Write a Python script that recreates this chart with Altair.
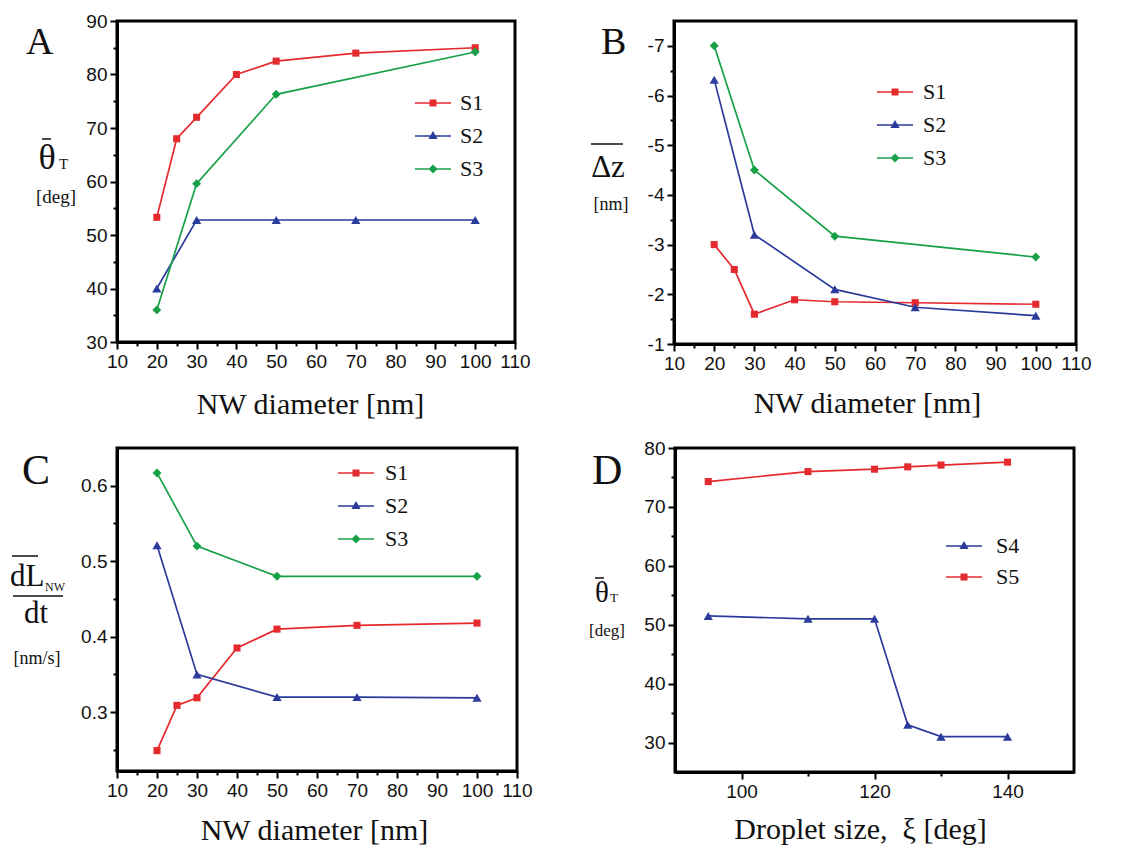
import json
import altair as alt
import pandas as pd

RED = "#e52a2e"
BLUE = "#2a3b9b"
GREEN = "#18a049"
INK = "#111111"

# ---------------- data ----------------
# Panel A : mean theta_T [deg] vs NW diameter [nm]
a_s1_x = [20, 25, 30, 40, 50, 70, 100]
a_s1_y = [53.3, 68.0, 72.0, 80.0, 82.5, 84.0, 85.0]
a_s2_x = [20, 30, 50, 70, 100]
a_s2_y = [40.0, 52.8, 52.8, 52.8, 52.8]
a_s3_x = [20, 30, 50, 100]
a_s3_y = [36.0, 59.6, 76.3, 84.2]

# Panel B : mean Delta z [nm] vs NW diameter [nm]
b_s1_x = [20, 25, 30, 40, 50, 70, 100]
b_s1_y = [-3.0, -2.5, -1.6, -1.89, -1.85, -1.83, -1.8]
b_s2_x = [20, 30, 50, 70, 100]
b_s2_y = [-6.32, -3.2, -2.1, -1.74, -1.57]
b_s3_x = [20, 30, 50, 100]
b_s3_y = [-7.0, -4.5, -3.17, -2.75]

# Panel C : mean dL_NW/dt [nm/s] vs NW diameter [nm]
c_s1_x = [20, 25, 30, 40, 50, 70, 100]
c_s1_y = [0.249, 0.309, 0.319, 0.385, 0.41, 0.415, 0.418]
c_s2_x = [20, 30, 50, 70, 100]
c_s2_y = [0.521, 0.35, 0.32, 0.32, 0.319]
c_s3_x = [20, 30, 50, 100]
c_s3_y = [0.617, 0.52, 0.48, 0.48]

# Panel D : mean theta_T [deg] vs droplet size xi [deg]
d_s4_x = [95, 110, 120, 125, 130, 140]
d_s4_y = [51.5, 51.0, 51.0, 33.0, 31.0, 31.0]
d_s5_x = [95, 110, 120, 125, 130, 140]
d_s5_y = [74.3, 76.0, 76.4, 76.8, 77.1, 77.6]

# tick values
nw_major = [10, 20, 30, 40, 50, 60, 70, 80, 90, 100, 110]
nw_minor = [15, 25, 35, 45, 55, 65, 75, 85, 95, 105]
a_y_major = [30, 40, 50, 60, 70, 80, 90]
a_y_minor = [35, 45, 55, 65, 75, 85]
b_y_major = [-1, -2, -3, -4, -5, -6, -7]
b_y_minor = [-1.5, -2.5, -3.5, -4.5, -5.5, -6.5]
c_y_major = [0.3, 0.4, 0.5, 0.6]
c_y_minor = [0.25, 0.35, 0.45, 0.55]
d_x_major = [100, 120, 140]
d_x_minor = [110, 130]
d_y_major = [30, 40, 50, 60, 70, 80]
d_y_minor = [35, 45, 55, 65, 75]

# legend symbols: line segment + marker
SEG = "M-1.8,-0.075H1.8V0.075H-1.8Z "
P_SQ = SEG + "M-0.35,-0.35H0.35V0.35H-0.35Z"
P_TRI = SEG + "M0,-0.5L0.46,0.3H-0.46Z"
P_DIA = SEG + "M0,-0.46L0.46,0L0,0.46L-0.46,0Z"


def make_axis(major, minor, title=None, fmt=None, lab=None, title_x=None, title_y=None):
    test = "indexof(%s, datum.value) >= 0" % json.dumps(major)
    kw = dict(
        values=sorted(major + minor),
        labelExpr=lab if lab else f"{test} ? datum.label : ''",
        tickSize={"condition": {"test": test, "value": 7}, "value": 4},
        tickWidth=2, tickColor="black", domainColor="black", domainWidth=3,
        labelFont="Liberation Sans", labelFontSize=19, labelColor=INK,
        labelPadding=3, labelFlush=False, labelOverlap=False, grid=False,
    )
    if fmt:
        kw["format"] = fmt
    if title:
        kw.update(title=title, titleFont="Liberation Serif", titleFontSize=30,
                  titleFontWeight="normal", titleColor=INK, titleBaseline="alphabetic",
                  titleAlign="center", titleX=title_x, titleY=title_y)
    else:
        kw["title"] = None
    return alt.Axis(**kw)


def txt(s, x, y, size, align="left"):
    return alt.Chart(pd.DataFrame({"t": [s]})).mark_text(
        font="Liberation Serif", fontSize=size, align=align, baseline="alphabetic", color=INK
    ).encode(text="t:N", x=alt.value(x), y=alt.value(y))


def bar(x1, x2, y):
    return alt.Chart(pd.DataFrame({"t": [0]})).mark_rule(color=INK, strokeWidth=1.5).encode(
        x=alt.value(x1), x2=alt.value(x2), y=alt.value(y))


def anchor(x1, x2, y1, y2):
    # invisible frame that fixes the extent of a panel for the concat layout
    return alt.Chart(pd.DataFrame({"t": [0]})).mark_rule(color="white", opacity=0, strokeWidth=1).encode(
        x=alt.value(x1), x2=alt.value(x2), y=alt.value(y1), y2=alt.value(y2))


def panel(series, xdom, ydom, yrev, xaxis, yaxis, w, h, leg, extras):
    X = alt.X("x:Q", scale=alt.Scale(domain=xdom, nice=False, zero=False), axis=xaxis)
    Y = alt.Y("y:Q", scale=alt.Scale(domain=ydom, nice=False, zero=False, reverse=yrev), axis=yaxis)
    layers = []
    for name, xs, ys, col, marker, ms, path in series:
        df = pd.DataFrame({"x": xs, "y": ys})
        layers.append(alt.Chart(df).mark_line(color=col, strokeWidth=1.7).encode(X, Y))
    for name, xs, ys, col, marker, ms, path in series:
        df = pd.DataFrame({"x": xs, "y": ys})
        layers.append(alt.Chart(df).mark_point(filled=True, opacity=1, shape=marker, size=ms,
                                               color=col).encode(X, Y))
    names = [s[0] for s in series]
    L = alt.Legend(title=None, orient="none", legendX=leg[0], legendY=leg[1], padding=0,
                   labelFont="Liberation Serif", labelFontSize=22, labelColor=INK,
                   labelOffset=leg[2], rowPadding=leg[3], symbolSize=400,
                   symbolStrokeWidth=0, symbolOpacity=1, labelLimit=200)
    legdf = pd.DataFrame({"series": names, "x": [xdom[0]] * len(names), "y": [ydom[0]] * len(names)})
    layers.append(
        alt.Chart(legdf).mark_point(filled=True, opacity=1, size=400).encode(
            X, Y,
            color=alt.Color("series:N", scale=alt.Scale(domain=names, range=[s[3] for s in series]), legend=L),
            shape=alt.Shape("series:N", scale=alt.Scale(domain=names, range=[s[6] for s in series]), legend=L),
        ).transform_filter("false")
    )
    layers += extras
    return alt.layer(*layers).properties(width=w, height=h)


A = panel(
    [("S1", a_s1_x, a_s1_y, RED, "square", 50, P_SQ),
     ("S2", a_s2_x, a_s2_y, BLUE, "triangle-up", 85, P_TRI),
     ("S3", a_s3_x, a_s3_y, GREEN, "diamond", 80, P_DIA)],
    [10, 110], [30, 90], False,
    make_axis(nw_major, nw_minor, "NW diameter [nm]", "d", title_x=193, title_y=71),
    make_axis(a_y_major, a_y_minor, None, "d"),
    398, 321, (305, 71, 16, 11),
    [txt("A", -91, 33, 38), txt("θ", -70, 148, 36, "center"), txt("T", -58, 148, 15),
     bar(-75, -66, 118), txt("[deg]", -61, 182, 19, "center"), anchor(-125, 428, -14, 406)],
)

B = panel(
    [("S1", b_s1_x, b_s1_y, RED, "square", 50, P_SQ),
     ("S2", b_s2_x, b_s2_y, BLUE, "triangle-up", 85, P_TRI),
     ("S3", b_s3_x, b_s3_y, GREEN, "diamond", 80, P_DIA)],
    [10, 110], [-7.5, -1], True,
    make_axis(nw_major, nw_minor, "NW diameter [nm]", "d", title_x=193, title_y=68),
    make_axis(b_y_major, b_y_minor, None, None,
              lab="indexof(%s, datum.value) >= 0 ? '-' + abs(datum.value) : ''" % json.dumps(b_y_major)),
    402, 323, (210, 60, 17, 11),
    [txt("B", -73, 33, 38), txt("Δz", -66, 156, 31, "center"), bar(-83, -51, 123),
     txt("[nm]", -63, 189, 18, "center"), anchor(-125, 432, -14, 408)],
)

C = panel(
    [("S1", c_s1_x, c_s1_y, RED, "square", 50, P_SQ),
     ("S2", c_s2_x, c_s2_y, BLUE, "triangle-up", 85, P_TRI),
     ("S3", c_s3_x, c_s3_y, GREEN, "diamond", 80, P_DIA)],
    [10, 110], [0.222, 0.65], False,
    make_axis(nw_major, nw_minor, "NW diameter [nm]", "d", title_x=197, title_y=68),
    make_axis(c_y_major, c_y_minor, None, ".1f"),
    400, 323, (228, 14, 18, 11),
    [txt("C", -95, 36, 42), bar(-105, -79, 108), txt("dL", -107, 138, 31), txt("NW", -72, 143, 12),
     bar(-104, -54, 148), txt("dt", -81, 175, 31, "center"), txt("[nm/s]", -80, 216, 18, "center"),
     anchor(-125, 426, -14, 380)],
)

D = panel(
    [("S4", d_s4_x, d_s4_y, BLUE, "triangle-up", 85, P_TRI),
     ("S5", d_s5_x, d_s5_y, RED, "square", 50, P_SQ)],
    [90, 150], [25, 80], False,
    make_axis(d_x_major, d_x_minor, "Droplet size,\u00a0 ξ [deg]", "d", title_x=185, title_y=66),
    make_axis(d_y_major, d_y_minor, None, "d"),
    399, 324, (278, 87, 21, 9),
    [txt("D", -83, 36, 42), txt("θ", -73, 154, 29, "center"), txt("T", -65, 154, 13),
     bar(-80, -71, 130), txt("[deg]", -68, 188, 17, "center"), anchor(-125, 429, -14, 380)],
)

ind = dict(color="independent", shape="independent")
row1 = alt.hconcat(A, B, spacing=0).resolve_scale(**ind).resolve_legend(**ind)
row2 = alt.hconcat(C, D, spacing=3).resolve_scale(**ind).resolve_legend(**ind)
chart = (
    alt.vconcat(row1, row2, spacing=1)
    .resolve_scale(**ind).resolve_legend(**ind)
    .properties(padding={"left": -18, "top": -3, "right": 0, "bottom": 0}, background="white")
    .configure_view(stroke="black", strokeWidth=3)
)

chart.save("out.html", embed_options={"renderer": "svg", "actions": False})
